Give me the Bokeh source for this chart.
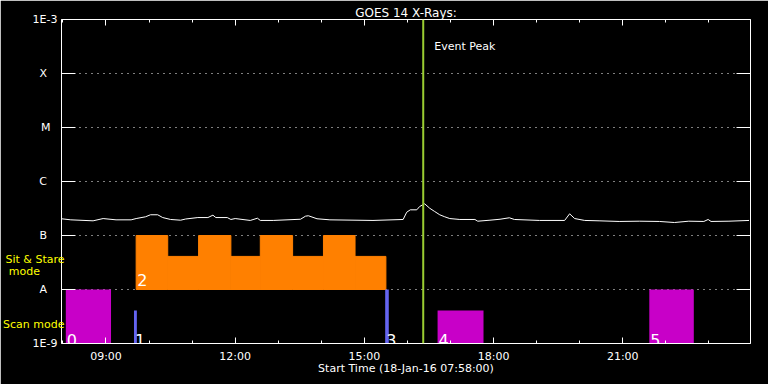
from bokeh.plotting import figure
from bokeh.models import FixedTicker, LinearAxis, LogAxis, Label, Span, Range1d
from bokeh.embed import file_html
from bokeh.resources import INLINE

# ---------------- data ----------------
START = "07:58"
END = "23:58"

flux_times = ["07:58", "08:11", "08:42", "08:56", "09:14", "09:35", "09:42", "09:55", "10:02",
              "10:12", "10:19", "10:30", "10:44", "10:51", "11:08", "11:22", "11:29", "11:33",
              "11:49", "11:54", "12:00", "12:21", "12:31", "12:35", "12:53", "13:31", "13:38",
              "13:42", "13:54", "14:12", "15:12", "15:54", "15:59", "16:04", "16:13", "16:17",
              "16:22", "16:24", "16:31", "16:38", "16:45", "16:52", "16:59", "17:13", "17:34",
              "17:38", "17:55", "18:09", "18:22", "18:29", "19:04", "19:39", "19:46", "19:53",
              "20:07", "20:27", "20:55", "21:23", "21:51", "22:12", "22:32", "22:53", "22:59",
              "23:03", "23:28", "23:56"]
flux_values = [2.04e-7, 1.95e-7, 1.87e-7, 2.06e-7, 1.95e-7, 1.95e-7, 2.06e-7, 2.22e-7, 2.42e-7,
               2.42e-7, 2.15e-7, 1.98e-7, 1.92e-7, 2.02e-7, 2.15e-7, 2.15e-7, 2.38e-7, 2.15e-7,
               2.15e-7, 1.98e-7, 2.06e-7, 1.90e-7, 2.09e-7, 1.90e-7, 1.90e-7, 2.00e-7, 2.28e-7,
               2.32e-7, 2.04e-7, 1.95e-7, 1.90e-7, 1.98e-7, 2.70e-7, 2.99e-7, 2.99e-7, 3.44e-7,
               3.75e-7, 3.86e-7, 3.20e-7, 2.78e-7, 2.42e-7, 2.22e-7, 2.06e-7, 1.98e-7, 1.98e-7,
               1.84e-7, 1.92e-7, 2.00e-7, 2.13e-7, 1.98e-7, 1.90e-7, 1.90e-7, 2.52e-7, 2.06e-7,
               1.90e-7, 1.87e-7, 1.82e-7, 1.84e-7, 1.82e-7, 1.74e-7, 1.84e-7, 1.82e-7, 1.98e-7,
               1.82e-7, 1.84e-7, 1.90e-7]

# scan-mode observations (number, start, end, top, colour)
scan_labels = ["0", "1", "3", "4", "5"]
scan_start = ["08:04", "09:39", "15:29", "16:42", "21:37"]
scan_end = ["09:07", "09:43", "15:34", "17:46", "22:39"]
scan_top = [1e-8, 4.1e-9, 1e-8, 4.1e-9, 1e-8]
scan_colors = ["#C800C8", "#6464F0", "#6464F0", "#C800C8", "#C800C8"]
scan_bottom = 1e-9

# sit & stare observation (number 2), stepped profile
ss_label = "2"
ss_edges = ["09:42", "10:26", "11:09", "11:54", "12:35", "13:20", "14:03", "14:47", "15:30"]
ss_levels = [1e-7, 4.1e-8, 1e-7, 4.1e-8, 1e-7, 4.1e-8, 1e-7, 4.1e-8]
ss_bottom = 1e-8
ss_color = "#FF8000"

event_peak = "16:22"

x_ticks = [9, 12, 15, 18, 21]
x_tick_labels = ["09:00", "12:00", "15:00", "18:00", "21:00"]
x_minor = list(range(8, 24))
y_ticks = [1e-9, 1e-8, 1e-7, 1e-6, 1e-5, 1e-4, 1e-3]
y_tick_labels = ["1E-9", "A", "B", "C", "M", "X", "1E-3"]
grid_ticks = [1e-8, 1e-7, 1e-6, 1e-5, 1e-4]
mode_captions = ["Sit & Stare", "mode", "Scan mode"]


def hours(s):
    h, m = s.split(":")
    return int(h) + int(m) / 60.0


FONT = "DejaVu Sans"
NB = "\u00a0"

p = figure(width=768, height=384, output_backend="svg", toolbar_location=None,
           x_range=Range1d(hours(START), hours(END)), y_range=Range1d(1e-9, 1e-3),
           y_axis_type="log", background_fill_color="black", border_fill_color="black",
           min_border_left=61, min_border_right=18, min_border_top=19, min_border_bottom=41)
p.outline_line_color = None
p.xgrid.visible = False
p.ygrid.ticker = FixedTicker(ticks=grid_ticks)
p.ygrid.grid_line_color = "white"
p.ygrid.grid_line_dash = "1 5"
p.ygrid.grid_line_width = 1

# title
p.title.text = "GOES 14 X-Rays:"
p.title.align = "center"
p.title.text_color = "white"
p.title.text_font = FONT
p.title.text_font_size = "12px"
p.title.text_font_style = "normal"
p.title.standoff = 0

# bottom axis
xa = p.xaxis[0]
xa.ticker = FixedTicker(ticks=x_ticks, minor_ticks=x_minor)
xa.major_label_overrides = {t: l for t, l in zip(x_ticks, x_tick_labels)}
xa.axis_label = "Start Time (18-Jan-%s %s:00)" % ("16", START)
xa.axis_line_color = "white"
xa.major_tick_line_color = "white"
xa.minor_tick_line_color = "white"
xa.major_tick_in = 6
xa.major_tick_out = 0
xa.minor_tick_in = 3
xa.minor_tick_out = 0
xa.major_label_text_color = "white"
xa.major_label_text_font = FONT
xa.major_label_text_font_size = "11px"
xa.major_label_standoff = 6
xa.axis_label_text_color = "white"
xa.axis_label_text_font = FONT
xa.axis_label_text_font_size = "11px"
xa.axis_label_text_font_style = "normal"
xa.axis_label_standoff = -4

# top axis (ticks only)
top = LinearAxis(ticker=FixedTicker(ticks=x_ticks, minor_ticks=x_minor))
top.axis_line_color = "white"
top.major_tick_line_color = "white"
top.minor_tick_line_color = "white"
top.major_tick_in = 6
top.major_tick_out = 0
top.minor_tick_in = 3
top.minor_tick_out = 0
top.major_label_overrides = {t: "" for t in x_ticks}
top.major_label_text_font_size = "1px"
top.major_label_standoff = 2
p.add_layout(top, "above")

# left axis
pad = {"A": 3, "B": 3, "C": 3, "M": 2, "X": 3}
ya = p.yaxis[0]
ya.ticker = FixedTicker(ticks=y_ticks, minor_ticks=[])
ya.major_label_overrides = {t: l + NB * pad.get(l, 0) for t, l in zip(y_ticks, y_tick_labels)}
ya.axis_line_color = "white"
ya.major_tick_line_color = "white"
ya.major_tick_in = 14
ya.major_tick_out = 0
ya.minor_tick_line_color = None
ya.major_label_text_color = "white"
ya.major_label_text_font = FONT
ya.major_label_text_font_size = "11px"
ya.major_label_standoff = 4

# outer left axis carrying the yellow mode captions (text only)
cap_pos = [3.67e-8, 2.15e-8, 2.25e-9]
cap_pad = [0, 7, 0]
cap = LogAxis(ticker=FixedTicker(ticks=cap_pos, minor_ticks=[]))
cap.major_label_overrides = {t: c + NB * n for t, c, n in zip(cap_pos, mode_captions, cap_pad)}
cap.axis_line_color = None
cap.major_tick_line_color = None
cap.minor_tick_line_color = None
cap.major_tick_in = 0
cap.major_tick_out = 0
cap.major_label_text_color = "#FFFF00"
cap.major_label_text_font = FONT
cap.major_label_text_font_size = "11px"
cap.major_label_standoff = -35
p.add_layout(cap, "left")

# right axis (ticks only)
ra = LogAxis(ticker=FixedTicker(ticks=y_ticks, minor_ticks=[]))
ra.axis_line_color = "white"
ra.major_tick_line_color = "white"
ra.major_tick_in = 14
ra.major_tick_out = 0
ra.minor_tick_line_color = None
ra.major_label_overrides = {t: "" for t in y_ticks}
ra.major_label_text_font_size = "1px"
ra.major_label_standoff = 0
p.add_layout(ra, "right")

# sit & stare stepped block
p.quad(left=[hours(t) for t in ss_edges[:-1]], right=[hours(t) for t in ss_edges[1:]],
       bottom=[ss_bottom] * len(ss_levels), top=ss_levels,
       fill_color=ss_color, line_color=ss_color, line_width=1)

# scan-mode bars
p.quad(left=[hours(t) for t in scan_start], right=[hours(t) for t in scan_end],
       bottom=[scan_bottom] * len(scan_start), top=scan_top,
       fill_color=scan_colors, line_color=None)

# GOES flux curve
p.line([hours(t) for t in flux_times], flux_values, line_color="white", line_width=1)

# event peak
p.add_layout(Span(location=hours(event_peak), dimension="height",
                  line_color="#9ACD32", line_width=2))
p.add_layout(Label(x=hours(event_peak), y=1e-3, x_offset=11, y_offset=-27, text="Event Peak",
                   text_color="white", text_font=FONT, text_font_size="11px",
                   text_baseline="alphabetic"))

# observation numbers
for lab, t in zip(scan_labels, scan_start):
    p.add_layout(Label(x=hours(t), y=scan_bottom, x_offset=1, y_offset=4, text=lab,
                       text_color="white", text_font=FONT, text_font_size="16px",
                       text_baseline="alphabetic"))
p.add_layout(Label(x=hours(ss_edges[0]), y=ss_bottom, x_offset=1, y_offset=10, text=ss_label,
                   text_color="white", text_font=FONT, text_font_size="16px",
                   text_baseline="alphabetic"))

open("out.html", "w").write(file_html(p, INLINE))
